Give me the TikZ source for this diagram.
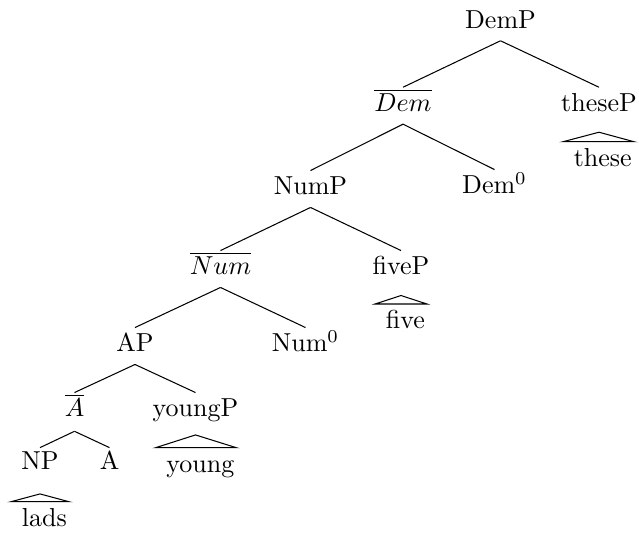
\documentclass[tikz,border=0pt]{standalone}
\begin{document}
\begin{tikzpicture}[x=0.3846pt, y=-0.3846pt,
  tn/.style={inner sep=0pt, text height=9.2pt, text depth=4.6pt, anchor=base},
  roofed/.style={text depth=7.7pt},
  leaf/.style={anchor=north, inner xsep=0.6pt, inner ysep=2.3pt, text height=6.94pt, text depth=0pt},
  branch/.style={line width=0.4pt},
  roof/.style={line width=0.4pt}]
\useasboundingbox (0,0) rectangle (639,533);

% labels of the tree
\node[tn] (DemP) at (500.5,28.3) {DemP};
\node[tn] (DemBar) at (403,111.7) {$\overline{Dem}$};
\node[tn,roofed] (theseP) at (599,111.7) {theseP};
\node[leaf] (these) at (598.5,141.7) {\hspace{3.33pt}these};
\node[tn] (NumP) at (310.5,195) {NumP};
\node[tn] (Dem0) at (494.5,194) {Dem$^0$};
\node[tn] (NumBar) at (220.5,275) {$\overline{Num}$};
\node[tn,roofed] (fiveP) at (401,275) {fiveP};
\node[leaf] (five) at (401,304) {\hspace{3.33pt}five};
\node[tn] (AP) at (135,352) {AP};
\node[tn] (Num0) at (305.5,352) {Num$^0$};
\node[tn, text depth=5.3pt] (ABar) at (74.5,417) {$\overline{A}$};
\node[tn, text depth=6.7pt] (youngP) at (195.5,417) {youngP};
\node[leaf] (young) at (196,447.7) {\hspace{3.33pt}young};
\node[tn, text height=8.4pt, text depth=9pt] (NP) at (40,470) {NP};
\node[tn, text height=8.4pt] (A) at (109.5,470) {A};
\node[leaf] (lads) at (40,501.7) {\hspace{3.33pt}lads};

% branches
\draw[branch] (DemP.south) -- (DemBar.north);
\draw[branch] (DemP.south) -- (theseP.north);
\draw[branch] (DemBar.south) -- (NumP.north);
\draw[branch] (DemBar.south) -- (Dem0.north);
\draw[branch] (NumP.south) -- (NumBar.north);
\draw[branch] (NumP.south) -- (fiveP.north);
\draw[branch] (NumBar.south) -- (AP.north);
\draw[branch] (NumBar.south) -- (Num0.north);
\draw[branch] (AP.south) -- (ABar.north);
\draw[branch] (AP.south) -- (youngP.north);
\draw[branch] (ABar.south) -- (NP.north);
\draw[branch] (ABar.south) -- (A.north);

% roofs over unanalysed material
\draw[roof] (theseP.south) -- (these.north west) -- (these.north east) -- cycle;
\draw[roof] (fiveP.south) -- (five.north west) -- (five.north east) -- cycle;
\draw[roof] (youngP.south) -- (young.north west) -- (young.north east) -- cycle;
\draw[roof] (NP.south) -- (lads.north west) -- (lads.north east) -- cycle;
\end{tikzpicture}
\end{document}
